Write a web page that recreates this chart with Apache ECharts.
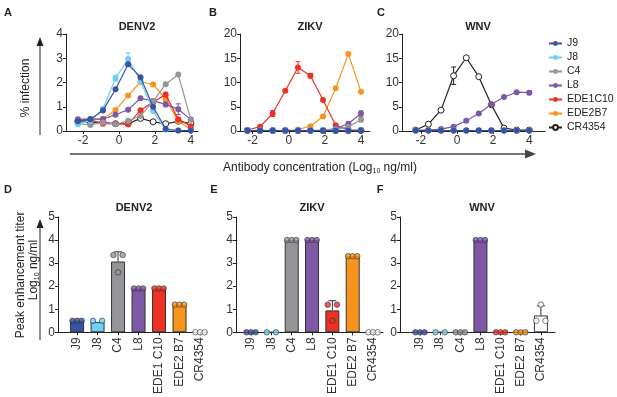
<!DOCTYPE html>
<html><head><meta charset="utf-8">
<script src="https://cdn.jsdelivr.net/npm/echarts@6/dist/echarts.min.js"></script>
<style>html,body{margin:0;padding:0;background:#fff}#c{width:617px;height:397px}</style>
</head><body><div id="c"></div>
<script>
// ---------- data ----------
const seriesNames = ['J9','J8','C4','L8','EDE1C10','EDE2B7','CR4354'];
const barLabels = ['J9','J8','C4','L8','EDE1 C10','EDE2 B7','CR4354'];
const logConc = [-2.29,-1.59,-0.89,-0.19,0.51,1.20,1.90,2.60,3.30,4.00];
const xTicks = [-2,0,2,4];

// DENV2 % infection
const denvJ9   = [0.40,0.48,0.85,1.72,2.75,2.22,1.00,0.08,0.02,0.02];
const denvJ8   = [0.28,0.42,0.92,2.18,2.97,2.06,0.82,0.05,0.02,0.02];
const denvC4   = [0.30,0.25,0.35,0.28,0.42,0.62,1.22,1.93,2.33,0.47];
const denvL8   = [0.48,0.50,0.49,0.67,0.88,1.35,1.24,1.10,0.90,0.47];
const denvEDE1 = [0.45,0.46,0.30,0.29,0.28,0.86,1.20,1.50,0.48,0.20];
const denvEDE2 = [0.40,0.45,0.50,0.87,1.46,2.02,1.92,1.32,0.40,0.05];
const denvCR   = [0.40,0.35,0.37,0.30,0.30,0.52,0.38,0.30,0.40,0.31];
// ZIKV % infection
const zikvJ9   = [0.10,0.10,0.10,0.10,0.10,0.10,0.10,0.10,0.10,0.10];
const zikvJ8   = [0.15,0.15,0.15,0.15,0.15,0.15,0.20,0.20,0.15,0.15];
const zikvC4   = [0.10,0.10,0.10,0.10,0.10,0.10,0.10,0.30,0.90,2.30];
const zikvL8   = [0.10,0.10,0.10,0.10,0.10,0.10,0.15,0.50,1.50,3.60];
const zikvEDE1 = [0.20,0.90,3.60,8.30,13.10,11.40,6.40,1.20,0.20,0.20];
const zikvEDE2 = [0.10,0.10,0.10,0.10,0.30,1.00,3.00,8.80,15.90,8.10];
const zikvCR   = [0.10,0.10,0.10,0.10,0.10,0.10,0.10,0.10,0.10,0.10];
// WNV % infection
const wnvJ9   = [0.10,0.10,0.10,0.10,0.10,0.10,0.10,0.10,0.10,0.10];
const wnvJ8   = [0.10,0.10,0.10,0.10,0.10,0.10,0.10,0.10,0.10,0.10];
const wnvC4   = [0.10,0.10,0.10,0.10,0.10,0.10,0.10,0.10,0.10,0.10];
const wnvL8   = [0.20,0.20,0.40,0.90,2.10,3.60,5.50,7.00,8.00,7.90];
const wnvEDE1 = [0.10,0.10,0.10,0.10,0.10,0.10,0.10,0.10,0.10,0.10];
const wnvEDE2 = [0.10,0.10,0.10,0.10,0.10,0.10,0.10,0.10,0.10,0.10];
const wnvCR   = [0.20,1.40,4.30,11.40,15.10,11.20,5.40,0.60,0.20,0.20];

// error bars for curves: [series index, point index, SD]
const denvErr = [[1,4,0.25],[1,3,0.12],[3,8,0.22],[3,7,0.10],[4,7,0.10],[0,4,0.08]];
const zikvErr = [[4,4,1.20],[4,2,0.60],[4,5,0.45],[3,9,0.55],[2,9,0.40]];
const wnvErr  = [[6,3,1.80],[3,9,0.40]];

// Peak enhancement titer (Log10 ng/ml): bar means, replicates, SD
const denvTiter = [0.50,0.45,3.07,1.90,1.90,1.20,0.00];
const zikvTiter = [0.00,0.00,4.00,4.00,0.95,3.30,0.00];
const wnvTiter  = [0.00,0.00,0.00,4.00,0.00,0.00,0.73];
const denvReps = [[0.5,0.5,0.5],[0.5,0.5],[3.35,2.6,3.35],[1.9,1.9,1.9],[1.9,1.9,1.9],[1.2,1.2,1.2],[0,0,0]];
const zikvReps = [[0,0,0],[0,0],[4,4,4],[4,4,4],[1.2,0.5,1.2],[3.3,3.3,3.3],[0,0,0]];
const wnvReps  = [[0,0,0],[0,0],[0,0,0],[4,4,4],[0,0,0],[0,0,0],[0.5,1.2,0.5]];
const denvSD = [0,0,0.42,0,0,0,0];
const zikvSD = [0,0,0,0,0.42,0,0];
const wnvSD  = [0,0,0,0,0,0,0.42];

// ---------- styles ----------
const colors = ['#3953A4','#6DCFF6','#939598','#7E57A5','#ED3124','#F7941D','#231F20'];
const barFill = ['#3953A4','#6DCFF6','#939598','#7E57A5','#ED3124','#F7941D','#ffffff'];
const FONT = '"Liberation Sans", Arial, sans-serif';
const AX = '#222';

const lineGrids = [
  {left:66, top:34, width:132, height:97, min:-2.95, max:4.4, ymax:4, yint:1},
  {left:240, top:34, width:130, height:97, min:-2.7, max:4.5, ymax:20, yint:5},
  {left:402, top:34, width:143, height:97, min:-3.05, max:4.87, ymax:20, yint:5}
];
const barGrids = [
  {left:58, top:217, width:149, height:116, min:-0.93, max:6.34},
  {left:236, top:217, width:147, height:116, min:-0.74, max:6.49},
  {left:400, top:217, width:155, height:116, min:-0.99, max:6.7}
];

const grids=[], xAxes=[], yAxes=[], series=[];
lineGrids.forEach((g,i)=>{
  grids.push({left:g.left, top:g.top, width:g.width, height:g.height, containLabel:false});
  xAxes.push({gridIndex:i, type:'value', min:g.min, max:g.max,
    axisLine:{show:true, onZero:false, lineStyle:{color:AX, width:1}},
    axisTick:{show:true, customValues:xTicks, length:3, lineStyle:{color:AX}},
    axisLabel:{customValues:xTicks, fontSize:12, color:'#333', fontFamily:FONT, margin:4},
    splitLine:{show:false}});
  yAxes.push({gridIndex:i, type:'value', min:0, max:g.ymax, interval:g.yint,
    axisLine:{show:true, onZero:false, lineStyle:{color:AX, width:1}},
    axisTick:{show:true, length:3, lineStyle:{color:AX}},
    axisLabel:{fontSize:12, color:'#333', fontFamily:FONT, margin:3},
    splitLine:{show:false}});
});
barGrids.forEach((g,j)=>{
  const i=j+3;
  grids.push({left:g.left, top:g.top, width:g.width, height:g.height, containLabel:false});
  xAxes.push({gridIndex:i, type:'value', min:g.min, max:g.max,
    axisLine:{show:true, onZero:false, lineStyle:{color:AX, width:1}},
    axisTick:{show:true, customValues:[0,1,2,3,4,5,6], length:3, lineStyle:{color:AX}},
    axisLabel:{customValues:[0,1,2,3,4,5,6], rotate:90, fontSize:12, color:'#333', fontFamily:FONT, margin:5,
      formatter:(v)=>barLabels[Math.round(v)]},
    splitLine:{show:false}});
  yAxes.push({gridIndex:i, type:'value', min:0, max:5, interval:1,
    axisLine:{show:true, onZero:false, lineStyle:{color:AX, width:1}},
    axisTick:{show:true, length:3, lineStyle:{color:AX}},
    axisLabel:{fontSize:12, color:'#333', fontFamily:FONT, margin:3},
    splitLine:{show:false}});
});

const panels = [
  [denvJ9,denvJ8,denvC4,denvL8,denvEDE1,denvEDE2,denvCR],
  [zikvJ9,zikvJ8,zikvC4,zikvL8,zikvEDE1,zikvEDE2,zikvCR],
  [wnvJ9,wnvJ8,wnvC4,wnvL8,wnvEDE1,wnvEDE2,wnvCR]
];
const errs = [denvErr, zikvErr, wnvErr];

function errLine(cap, both, fixedColor){
  return function(params, api){
    const x=api.value(0), lo=api.value(1), hi=api.value(2), ci=api.value(3);
    const a=api.coord([x,lo]), b=api.coord([x,hi]);
    const st={stroke: fixedColor || colors[ci], lineWidth:1};
    const ch=[{type:'line',shape:{x1:a[0],y1:a[1],x2:b[0],y2:b[1]},style:st},
              {type:'line',shape:{x1:b[0]-cap,y1:b[1],x2:b[0]+cap,y2:b[1]},style:st}];
    if(both) ch.push({type:'line',shape:{x1:a[0]-cap,y1:a[1],x2:a[0]+cap,y2:a[1]},style:st});
    return {type:'group',children:ch};
  };
}

panels.forEach((p,i)=>{
  series.push({type:'custom', name:'err'+i, xAxisIndex:i, yAxisIndex:i, silent:true, z:1,
    renderItem: errLine(2.5,true),
    encode:{x:0, y:[1,2]},
    data: errs[i].map(e=>{const v=p[e[0]][e[1]]; return [logConc[e[1]], Math.max(0,v-e[2]), v+e[2], e[0]];})});
  for(let s=6; s>=0; s--){
    const isCR = s===6;
    series.push({type:'line', name:seriesNames[s], xAxisIndex:i, yAxisIndex:i,
      data: logConc.map((x,k)=>[x, p[s][k]]),
      symbol:'circle', symbolSize: 6, showSymbol:true,
      color: colors[s],
      itemStyle: isCR ? {color:'#ffffff', borderColor:colors[s], borderWidth:1} : {color:colors[s]},
      lineStyle:{width:1.2, color: colors[s]},
      z: 3 + (6-s)*0.1});
  }
});

const titers = [denvTiter, zikvTiter, wnvTiter];
const reps = [denvReps, zikvReps, wnvReps];
const sds = [denvSD, zikvSD, wnvSD];
const off3 = [-4.6,0,4.6], off2=[-4.6,4.6];
titers.forEach((t,j)=>{
  const i=j+3;
  series.push({type:'bar', name:'bar'+j, xAxisIndex:i, yAxisIndex:i, barWidth:14,
    itemStyle:{borderColor:'#333', borderWidth:1},
    data: t.map((v,k)=>({value:[k,v], itemStyle:{color:barFill[k]}})), z:2});
  series.push({type:'custom', name:'sd'+j, xAxisIndex:i, yAxisIndex:i, silent:true, z:3,
    renderItem: errLine(4,false,'#333'), encode:{x:0,y:[1,2]},
    data: t.map((v,k)=>[k, v, v+sds[j][k], k]).filter((d,k)=>sds[j][k]>0)});
  const dots=[];
  reps[j].forEach((r,k)=>{
    const offs = r.length===2 ? off2 : off3;
    r.forEach((v,m)=>dots.push({value:[k,v], symbolOffset:[offs[m],0], itemStyle:{color:barFill[k]}}));
  });
  series.push({type:'scatter', name:'dots'+j, xAxisIndex:i, yAxisIndex:i, symbol:'circle', symbolSize:5.5,
    itemStyle:{borderColor:'#333', borderWidth:0.8}, data:dots, z:4});
});

// ---------- text & arrows ----------
function txt(x,y,text,size,weight,opts){
  return Object.assign({type:'text', x:x, y:y, style:{text:text, fill:'#222', fontSize:size, fontWeight:weight||'normal', fontFamily:FONT,
    align:'center', verticalAlign:'middle', textAlign:'center', textVerticalAlign:'middle'}}, opts||{});
}
const graphic = [
  txt(8,13,'A',11,'bold'), txt(213,13,'B',11,'bold'), txt(381,13,'C',11,'bold'),
  txt(8,190,'D',11,'bold'), txt(214,190,'E',11,'bold'), txt(380,190,'F',11,'bold'),
  txt(137,27,'DENV2',11,'bold'), txt(310,27,'ZIKV',11,'bold'), txt(478,27,'WNV',11,'bold'),
  txt(134,208,'DENV2',11,'bold'), txt(312,208,'ZIKV',11,'bold'), txt(482,208,'WNV',11,'bold'),
  txt(26,88,'% infection',12,'normal',{rotation:Math.PI/2}),
  txt(21,275,'Peak enhancement titer',12,'normal',{rotation:Math.PI/2}),
  {type:'text', x:34, y:270, rotation:Math.PI/2, style:{text:'Log{s|10} ng/ml', fill:'#222', fontSize:12, fontFamily:FONT,
    align:'center', verticalAlign:'middle', rich:{s:{fontSize:7, fontFamily:FONT, fill:'#222', padding:[6,0,0,0]}}}},
  {type:'text', x:320, y:168, style:{text:'Antibody concentration (Log{s|10} ng/ml)', fill:'#222', fontSize:12, fontFamily:FONT,
    align:'center', verticalAlign:'middle', rich:{s:{fontSize:7, fontFamily:FONT, fill:'#222', padding:[6,0,0,0]}}}},
  {type:'line', shape:{x1:40,y1:135,x2:40,y2:44}, style:{stroke:'#222', lineWidth:1}},
  {type:'polygon', shape:{points:[[36.5,46],[40,37],[43.5,46]]}, style:{fill:'#222'}},
  {type:'line', shape:{x1:40,y1:340,x2:40,y2:226}, style:{stroke:'#222', lineWidth:1}},
  {type:'polygon', shape:{points:[[36.5,228],[40,219],[43.5,228]]}, style:{fill:'#222'}},
  {type:'line', shape:{x1:70,y1:154,x2:528,y2:154}, style:{stroke:'#777', lineWidth:2}},
  {type:'polygon', shape:{points:[[525,149.5],[536,154],[525,158.5]]}, style:{fill:'#444'}}
];

const chart = echarts.init(document.getElementById('c'), null, {renderer:'canvas'});
chart.setOption({
  animation:false, backgroundColor:'#fff',
  grid:grids, xAxis:xAxes, yAxis:yAxes, series:series, graphic:graphic,
  legend:{data:seriesNames, orient:'vertical', left:543, top:33, itemWidth:13, itemHeight:6, itemGap:3,
    textStyle:{fontSize:10.5, fontFamily:FONT, color:'#222'}, selectedMode:false}
});
</script></body></html>
